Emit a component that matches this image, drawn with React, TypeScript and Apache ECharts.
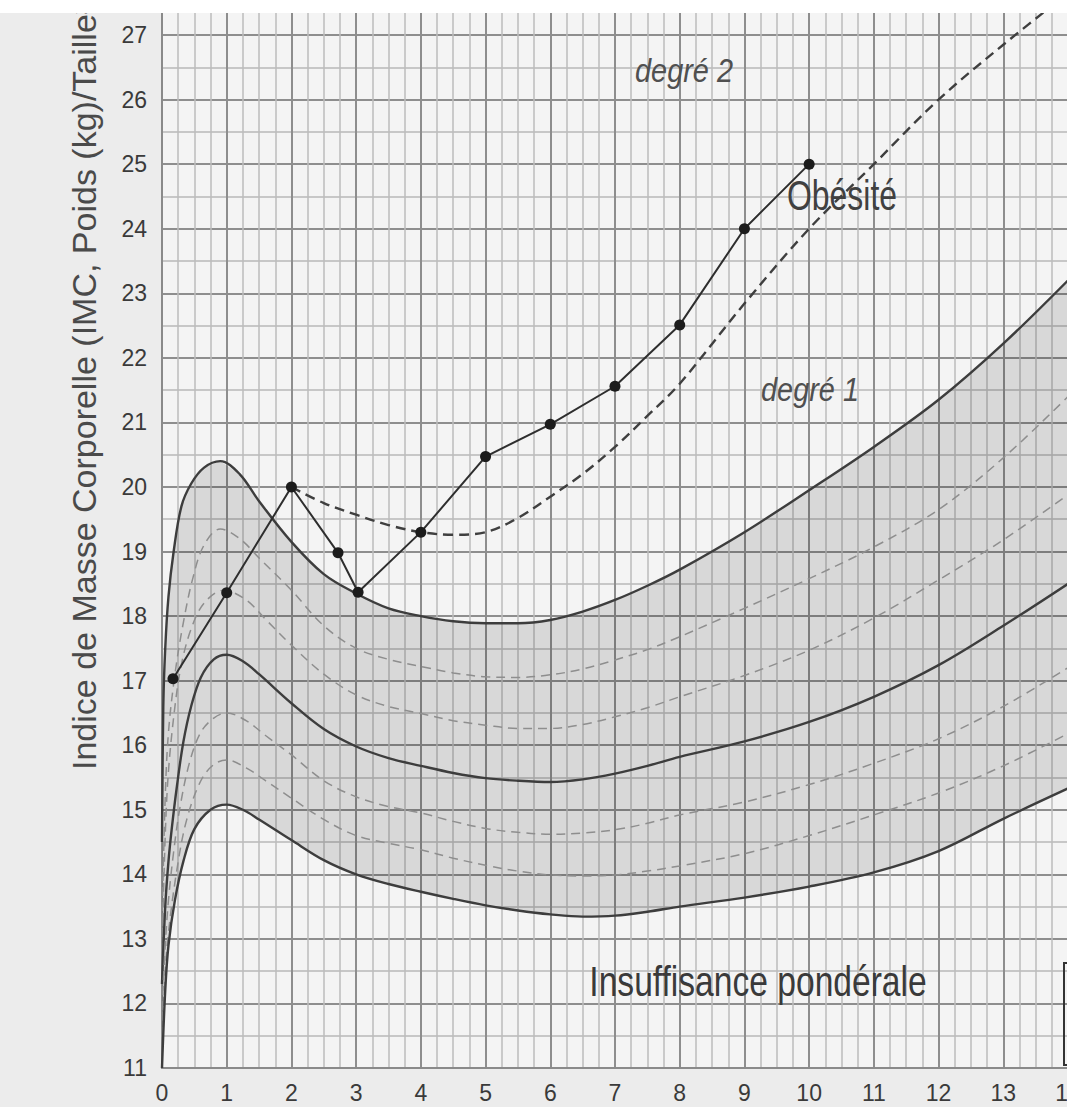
import React, { useEffect, useRef } from "react";
import * as echarts from "echarts";

// Axes
const X_MIN = 0;
const X_MAX = 14;
const Y_MIN = 11;
const Y_MAX = 27.5;

// Reference curves (age in years, BMI)
const AGE_P97 = [0, 0.02, 0.05, 0.1, 0.18, 0.3, 0.45, 0.65, 0.9, 1.2, 1.5, 2, 2.5, 3, 3.5, 4, 4.5, 5, 5.5, 6, 6.5, 7, 7.5, 8, 9, 10, 11, 12, 13, 14];
const BMI_P97 = [14.5, 16.6, 17.5, 18.3, 19.0, 19.7, 20.05, 20.3, 20.4, 20.2, 19.78, 19.15, 18.65, 18.35, 18.12, 18.0, 17.92, 17.89, 17.89, 17.94, 18.07, 18.25, 18.47, 18.72, 19.3, 19.95, 20.62, 21.35, 22.22, 23.2];

const AGE_P90 = [0, 0.05, 0.1, 0.2, 0.33, 0.48, 0.65, 0.9, 1.2, 1.5, 2, 2.5, 3, 3.5, 4, 4.5, 5, 5.5, 6, 6.5, 7, 7.5, 8, 9, 10, 11, 12, 13, 14];
const BMI_P90 = [13.2, 15.2, 16.2, 17.1, 17.9, 18.6, 19.1, 19.35, 19.2, 18.9, 18.4, 17.85, 17.5, 17.33, 17.22, 17.12, 17.06, 17.05, 17.09, 17.18, 17.32, 17.48, 17.68, 18.12, 18.58, 19.07, 19.65, 20.45, 21.4];

const AGE_P75 = [0, 0.05, 0.1, 0.2, 0.3, 0.45, 0.65, 0.95, 1.3, 1.6, 2, 2.5, 3, 3.5, 4, 4.5, 5, 5.5, 6, 6.5, 7, 7.5, 8, 9, 10, 11, 12, 13, 14];
const BMI_P75 = [12.8, 14.6, 15.6, 16.6, 17.25, 17.8, 18.2, 18.4, 18.25, 17.95, 17.55, 17.1, 16.78, 16.6, 16.49, 16.38, 16.31, 16.26, 16.26, 16.32, 16.44, 16.58, 16.75, 17.08, 17.47, 17.97, 18.56, 19.18, 19.88];

const AGE_P50 = [0, 0.05, 0.1, 0.15, 0.23, 0.33, 0.45, 0.6, 0.8, 1.0, 1.25, 1.5, 2, 2.5, 3, 3.5, 4, 4.5, 5, 5.5, 6, 6.5, 7, 7.5, 8, 9, 10, 11, 12, 13, 14];
const BMI_P50 = [12.3, 13.5, 14.2, 14.7, 15.36, 16.05, 16.6, 17.05, 17.33, 17.4, 17.3, 17.1, 16.65, 16.25, 15.98, 15.8, 15.68, 15.57, 15.49, 15.45, 15.43, 15.47, 15.56, 15.68, 15.82, 16.06, 16.36, 16.75, 17.24, 17.85, 18.5];

const AGE_P25 = [0, 0.05, 0.1, 0.18, 0.28, 0.43, 0.6, 0.8, 1.0, 1.3, 1.6, 2, 2.5, 3, 3.5, 4, 4.5, 5, 5.5, 6, 6.5, 7, 7.5, 8, 9, 10, 11, 12, 13, 14];
const BMI_P25 = [11.9, 12.9, 13.6, 14.35, 15.05, 15.75, 16.2, 16.42, 16.5, 16.38, 16.15, 15.85, 15.45, 15.2, 15.05, 14.95, 14.82, 14.71, 14.65, 14.62, 14.64, 14.69, 14.79, 14.92, 15.12, 15.39, 15.72, 16.1, 16.6, 17.2];

const AGE_P10 = [0, 0.05, 0.1, 0.23, 0.38, 0.6, 0.8, 1.0, 1.3, 1.6, 2, 2.5, 3, 3.5, 4, 4.5, 5, 5.5, 6, 6.5, 7, 7.5, 8, 9, 10, 11, 12, 13, 14];
const BMI_P10 = [11.5, 12.5, 13.1, 14.07, 14.84, 15.45, 15.7, 15.77, 15.65, 15.45, 15.18, 14.85, 14.6, 14.48, 14.38, 14.25, 14.14, 14.05, 13.99, 13.975, 13.99, 14.05, 14.13, 14.32, 14.6, 14.92, 15.26, 15.68, 16.18];

const AGE_P3 = [0, 0.05, 0.1, 0.2, 0.33, 0.5, 0.75, 1.0, 1.25, 1.5, 2, 2.5, 3, 3.5, 4, 4.5, 5, 5.5, 6, 6.5, 7, 7.5, 8, 9, 10, 11, 12, 13, 14];
const BMI_P3 = [11.0, 12.2, 12.9, 13.6, 14.2, 14.7, 15.0, 15.08, 15.0, 14.85, 14.53, 14.22, 14.0, 13.85, 13.73, 13.62, 13.52, 13.44, 13.38, 13.345, 13.36, 13.42, 13.5, 13.64, 13.81, 14.03, 14.36, 14.86, 15.33];

// Obesity threshold (dark dashed)
const AGE_OBESITY = [2, 2.5, 3, 3.5, 4, 4.5, 5, 5.5, 6, 6.5, 7, 7.5, 8, 9, 10, 11, 12, 13, 14];
const BMI_OBESITY = [20.0, 19.75, 19.57, 19.41, 19.3, 19.26, 19.3, 19.52, 19.85, 20.2, 20.62, 21.1, 21.6, 22.84, 24.0, 25.0, 26.0, 26.85, 27.65];

// Patient measurements
const AGE_PATIENT = [0.17, 1, 2, 2.72, 3.03, 4, 5, 6, 7, 8, 9, 10];
const BMI_PATIENT = [17.03, 18.36, 20.0, 18.98, 18.37, 19.3, 20.47, 20.97, 21.56, 22.51, 24.0, 25.0];

// Texts
const Y_TITLE = "Indice de Masse Corporelle (IMC, Poids (kg)/Taille²)";
const LABEL_DEG2 = "degré 2";
const LABEL_OBESITE = "Obésité";
const LABEL_DEG1 = "degré 1";
const LABEL_INSUF = "Insuffisance pondérale";

const zip = (xs: number[], ys: number[]) => xs.map((x, i) => [x, ys[i]]);

const FONT = "'Liberation Sans', Arial, Helvetica, sans-serif";

export default function App() {
  const ref = useRef<HTMLDivElement>(null);

  useEffect(() => {
    if (!ref.current) return;
    const chart = echarts.init(ref.current, null, { renderer: "svg" });

    const p97 = zip(AGE_P97, BMI_P97);
    const p3 = zip(AGE_P3, BMI_P3);

    const solid = { color: "#3d3d3d", width: 2.4 };
    const light = { color: "#8e8e8e", width: 1.5, type: [9, 6] as any };

    const lineSeries = (name: string, data: number[][], ls: any, z = 3) => ({
      name,
      type: "line",
      data,
      showSymbol: false,
      smooth: 0.35,
      lineStyle: ls,
      silent: true,
      z,
      clip: true,
    });

    const option: any = {
      animation: false,
      backgroundColor: "#ececec",
      grid: {
        left: 162,
        top: 2.76,
        width: 906,
        height: 1065.24,
        show: true,
        backgroundColor: "#f4f4f4",
        borderWidth: 0,
        containLabel: false,
        outerBoundsMode: "none",
      },
      xAxis: {
        type: "value",
        min: X_MIN,
        max: X_MAX,
        interval: 1,
        axisLine: { show: true, lineStyle: { color: "#8a8a8a", width: 2 } },
        axisTick: { show: false },
        axisLabel: {
          fontSize: 23,
          color: "#3a3a3a",
          fontFamily: FONT,
          margin: 13,
        },
        splitLine: { show: true, lineStyle: { color: "#8e8e8e", width: 2 } },
        minorTick: { show: false, splitNumber: 4 },
        minorSplitLine: { show: true, lineStyle: { color: "#bdbdbd", width: 1.5 } },
      },
      yAxis: {
        type: "value",
        min: Y_MIN,
        max: Y_MAX,
        interval: 1,
        axisLine: { show: true, lineStyle: { color: "#8a8a8a", width: 2 } },
        axisTick: { show: false },
        axisLabel: {
          fontSize: 23,
          color: "#3a3a3a",
          fontFamily: FONT,
          margin: 15,
          formatter: (v: number) => (Number.isInteger(v) ? String(v) : ""),
        },
        splitLine: { show: true, lineStyle: { color: "#8e8e8e", width: 2 } },
        minorTick: { show: false, splitNumber: 2 },
        minorSplitLine: { show: true, lineStyle: { color: "#b8b8b8", width: 1.5 } },
      },
      series: [
        {
          name: "zone",
          type: "custom",
          silent: true,
          z: 1,
          data: [[0, 11]],
          renderItem: (params: any, api: any) => {
            const pts = p97.map((p) => api.coord(p));
            for (let i = p3.length - 1; i >= 0; i--) pts.push(api.coord(p3[i]));
            return {
              type: "polygon",
              shape: { points: pts, smooth: 0 },
              style: { fill: "rgba(0,0,0,0.115)" },
            };
          },
        },
        lineSeries("P97", p97, solid),
        lineSeries("P90", zip(AGE_P90, BMI_P90), light),
        lineSeries("P75", zip(AGE_P75, BMI_P75), light),
        lineSeries("P50", zip(AGE_P50, BMI_P50), solid),
        lineSeries("P25", zip(AGE_P25, BMI_P25), light),
        lineSeries("P10", zip(AGE_P10, BMI_P10), light),
        lineSeries("P3", p3, solid),
        lineSeries(
          "Obésité",
          zip(AGE_OBESITY, BMI_OBESITY),
          { color: "#3f3f3f", width: 2.4, type: [10, 6] },
          4
        ),
        {
          name: "Patient",
          type: "line",
          data: zip(AGE_PATIENT, BMI_PATIENT),
          showSymbol: true,
          symbol: "circle",
          symbolSize: 11,
          itemStyle: { color: "#1c1c1c" },
          lineStyle: { color: "#2e2e2e", width: 2 },
          silent: true,
          z: 5,
        },
      ],
      graphic: [
        {
          type: "text",
          x: 84,
          y: 770,
          rotation: Math.PI / 2,
          style: {
            text: Y_TITLE,
            fontSize: 34,
            fontFamily: FONT,
            fill: "#4a4a4a",
            align: "left",
            verticalAlign: "middle",
          },
          z: 50,
        },
        {
          type: "text",
          x: 684,
          y: 70,
          scaleX: 0.85,
          style: {
            text: LABEL_DEG2,
            fontSize: 34,
            fontStyle: "italic",
            fontFamily: FONT,
            fill: "#505050",
            align: "center",
            verticalAlign: "middle",
          },
          z: 50,
        },
        {
          type: "text",
          x: 842,
          y: 195,
          scaleX: 0.76,
          style: {
            text: LABEL_OBESITE,
            fontSize: 42,
            fontFamily: FONT,
            fill: "#404040",
            align: "center",
            verticalAlign: "middle",
          },
          z: 50,
        },
        {
          type: "text",
          x: 810,
          y: 389,
          scaleX: 0.85,
          style: {
            text: LABEL_DEG1,
            fontSize: 34,
            fontStyle: "italic",
            fontFamily: FONT,
            fill: "#505050",
            align: "center",
            verticalAlign: "middle",
          },
          z: 50,
        },
        {
          type: "text",
          x: 758,
          y: 982,
          scaleX: 0.8,
          style: {
            text: LABEL_INSUF,
            fontSize: 42,
            fontFamily: FONT,
            fill: "#3a3a3a",
            align: "center",
            verticalAlign: "middle",
          },
          z: 50,
        },
        {
          type: "polyline",
          shape: { points: [[1068, 963], [1064, 963], [1064, 1065], [1068, 1065]] },
          style: { stroke: "#333333", lineWidth: 2, fill: null },
          z: 50,
        },
        {
          type: "rect",
          shape: { x: 0, y: 0, width: 1067, height: 13 },
          style: { fill: "#ffffff" },
          z: 100,
        },
      ],
    };

    chart.setOption(option);
    return () => chart.dispose();
  }, []);

  return (
    <div
      ref={ref}
      style={{ position: "fixed", left: 0, top: 0, width: 1067, height: 1107 }}
    />
  );
}
